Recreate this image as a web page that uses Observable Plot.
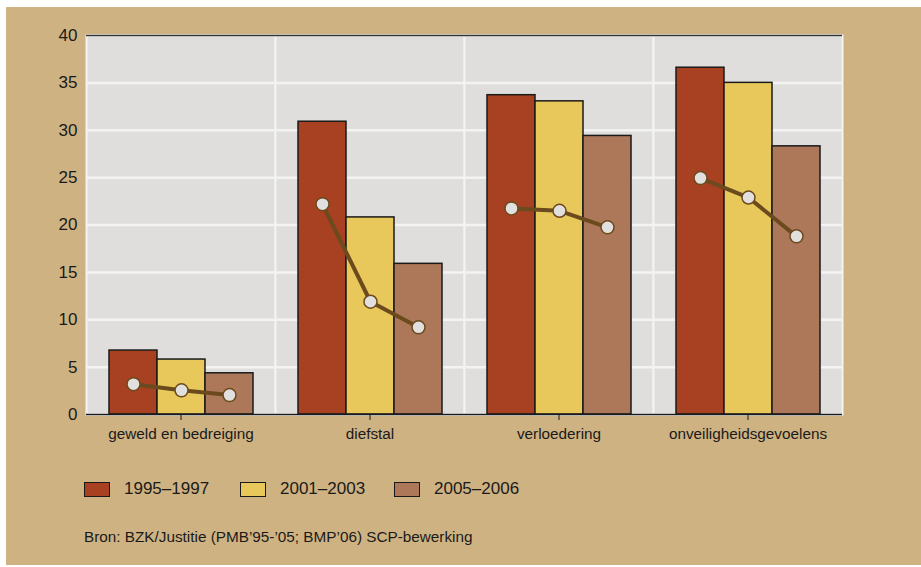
<!DOCTYPE html>
<html><head><meta charset="utf-8">
<script src="https://cdn.jsdelivr.net/npm/d3@7"></script>
<script src="https://cdn.jsdelivr.net/npm/@observablehq/plot@0.6"></script>
<style>
body{margin:0;background:#fff;}
#wrap{position:absolute;left:6px;top:7px;width:915px;height:558px;background:#cfb282;font-family:"Liberation Sans","Arial",sans-serif;color:#1a1a1a;}
#chart{position:absolute;left:0;top:0;}
#legend{position:absolute;left:78px;top:472px;display:flex;font-size:17px;}
.item{display:flex;align-items:center;}
.sw{width:24px;height:13px;border:1.5px solid #1a1a1a;margin-right:14px;}
#caption{position:absolute;left:78px;top:521px;font-size:15.3px;}
</style></head>
<body>
<div id="wrap"><div id="chart"></div><div id="legend"></div><div id="caption"></div></div>
<script>
const categories = ["geweld en bedreiging","diefstal","verloedering","onveiligheidsgevoelens"];
const periods = ["1995–1997","2001–2003","2005–2006"];
const colors = ["#a84122","#e8c85a","#ad785a"];
const bar1995 = [6.75, 30.9, 33.7, 36.6];
const bar2001 = [5.8, 20.8, 33.05, 35.0];
const bar2005 = [4.35, 15.9, 29.4, 28.3];
const dot1995 = [3.2, 22.2, 21.75, 24.95];
const dot2001 = [2.55, 11.9, 21.5, 22.9];
const dot2005 = [2.05, 9.2, 19.75, 18.8];
const yTicks = [0,5,10,15,20,25,30,35,40];
const captionText = "Bron: BZK/Justitie (PMB’95-’05; BMP’06) SCP-bewerking";

const barSeries = [bar1995, bar2001, bar2005];
const dotSeries = [dot1995, dot2001, dot2005];
const bars = [], dots = [];
categories.forEach((c, i) => periods.forEach((p, j) => {
  bars.push({cat: c, period: p, value: barSeries[j][i]});
  dots.push({cat: c, period: p, value: dotSeries[j][i]});
}));

const chart = Plot.plot({
  width: 915, height: 447,
  marginLeft: 79, marginRight: 78, marginTop: 28, marginBottom: 40,
  style: {background: "transparent", fontFamily: '"Liberation Sans",Arial,sans-serif', color: "#1a1a1a"},
  fx: {domain: categories, padding: 0, label: null},
  x: {domain: periods, paddingInner: 0, paddingOuter: 0.44, axis: null},
  y: {domain: [0, 40], axis: null},
  color: {domain: periods, range: colors},
  marks: [
    Plot.frame({fill: "#dfdedd", stroke: "#f3f3f3", strokeWidth: 2}),
    Plot.gridY(yTicks, {stroke: "#f3f3f3", strokeOpacity: 1, strokeWidth: 2.5}),
    Plot.barY(bars, {fx: "cat", x: "period", y: "value", fill: "period", stroke: "#1a1a1a", strokeWidth: 1.5}),
    Plot.ruleY([0], {stroke: "#1a1a1a", strokeWidth: 1.5}),
    Plot.ruleY([40], {stroke: "#333", strokeWidth: 1.5}),
    Plot.line(dots, {fx: "cat", x: "period", y: "value", stroke: "#6b4a1e", strokeWidth: 4}),
    Plot.dot(dots, {fx: "cat", x: "period", y: "value", r: 6.5, fill: "#e2e0de", stroke: "#6b4a1e", strokeWidth: 1.5}),
    Plot.axisY(yTicks, {tickSize: 0, tickPadding: 9, fontSize: 17, label: null}),
    Plot.axisFx({anchor: "bottom", tickSize: 6, tickPadding: 8, fontSize: 15.3, label: null})
  ]
});
document.getElementById("chart").appendChild(chart);

const legend = document.getElementById("legend");
const itemWidths = [156, 154, 150];
periods.forEach((p, i) => {
  const it = document.createElement("div"); it.className = "item"; it.style.width = itemWidths[i] + "px";
  const sw = document.createElement("div"); sw.className = "sw"; sw.style.background = colors[i];
  const t = document.createElement("span"); t.textContent = p;
  it.appendChild(sw); it.appendChild(t); legend.appendChild(it);
});
document.getElementById("caption").textContent = captionText;
</script>
</body></html>
